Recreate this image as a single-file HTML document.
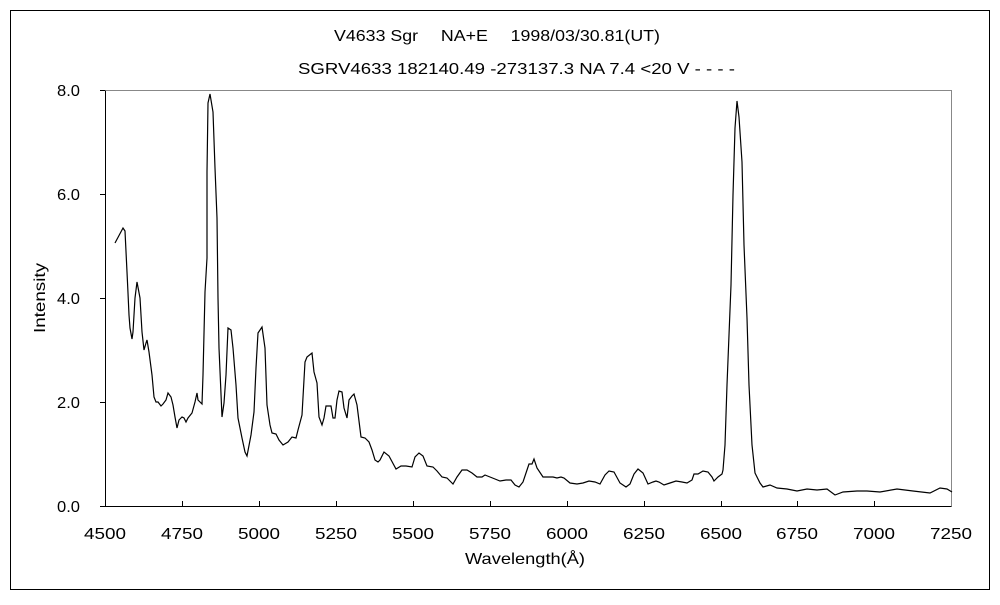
<!DOCTYPE html>
<html><head><meta charset="utf-8"><style>
body{margin:0;background:#fff;}
text{font-family:"Liberation Sans","Noto Sans CJK JP",sans-serif;font-size:16px;fill:#000;}
</style></head><body>
<svg width="1000" height="600" xmlns="http://www.w3.org/2000/svg">
<rect x="0" y="0" width="1000" height="600" fill="#fff"/>
<rect x="10.5" y="10.5" width="979" height="579" fill="none" stroke="#000" stroke-width="1"/>
<text x="334" y="41" textLength="326" lengthAdjust="spacingAndGlyphs">V4633 Sgr　 NA+E　 1998/03/30.81(UT)</text>
<text x="298" y="74" textLength="437" lengthAdjust="spacingAndGlyphs">SGRV4633 182140.49 -273137.3 NA 7.4 &lt;20 V - - - -</text>
<path d="M105.5 90.5H951.5V506.5" fill="none" stroke="#888" stroke-width="1"/>
<path d="M105.5 90.5V506.5H951.5" fill="none" stroke="#000" stroke-width="1"/>
<g stroke="#000" stroke-width="1">
<path d="M105 90.5h-5M105 194.5h-5M105 298.5h-5M105 402.5h-5M105 506.5h-5"/>
<path d="M182.5 506v-5M259.5 506v-5M336.5 506v-5M413.5 506v-5M490.5 506v-5M567.5 506v-5M644.5 506v-5M721.5 506v-5M797.5 506v-5M874.5 506v-5"/>
</g>
<g text-anchor="end">
<text x="80" y="96" textLength="23" lengthAdjust="spacingAndGlyphs">8.0</text><text x="80" y="200" textLength="23" lengthAdjust="spacingAndGlyphs">6.0</text><text x="80" y="304" textLength="23" lengthAdjust="spacingAndGlyphs">4.0</text><text x="80" y="408" textLength="23" lengthAdjust="spacingAndGlyphs">2.0</text><text x="80" y="512" textLength="23" lengthAdjust="spacingAndGlyphs">0.0</text>
</g>
<g text-anchor="middle">
<text x="105" y="539" textLength="42" lengthAdjust="spacingAndGlyphs">4500</text><text x="182" y="539" textLength="42" lengthAdjust="spacingAndGlyphs">4750</text><text x="259" y="539" textLength="42" lengthAdjust="spacingAndGlyphs">5000</text><text x="336" y="539" textLength="42" lengthAdjust="spacingAndGlyphs">5250</text><text x="413" y="539" textLength="42" lengthAdjust="spacingAndGlyphs">5500</text><text x="490" y="539" textLength="42" lengthAdjust="spacingAndGlyphs">5750</text><text x="567" y="539" textLength="42" lengthAdjust="spacingAndGlyphs">6000</text><text x="644" y="539" textLength="42" lengthAdjust="spacingAndGlyphs">6250</text><text x="721" y="539" textLength="42" lengthAdjust="spacingAndGlyphs">6500</text><text x="797" y="539" textLength="42" lengthAdjust="spacingAndGlyphs">6750</text><text x="874" y="539" textLength="42" lengthAdjust="spacingAndGlyphs">7000</text><text x="951" y="539" textLength="42" lengthAdjust="spacingAndGlyphs">7250</text>
<text x="525" y="564" textLength="120" lengthAdjust="spacingAndGlyphs">Wavelength(Å)</text>
<text transform="translate(45,298) rotate(-90)" textLength="70" lengthAdjust="spacingAndGlyphs">Intensity</text>
</g>
<polyline fill="none" stroke="#000" stroke-width="1.2" points="115,243 123,228 125,231 127,272 128,293 129,315 130,328 132,339 133,332 135,298 137,282 140,298 142,332 144,350 146,343 147,340 149,352 152,375 154,397 156,402 158,402 161,406 163,404 166,400 168,393 171,397 173,405 175,417 177,428 179,420 182,417 184,418 186,422 188,418 192,413 195,402 197,393 198,400 202,404 203,375 205,292 207,258 207,172 208,103 210,94 213,112 215,168 217,218 218,298 219,348 222,417 224,403 226,375 228,328 231,330 233,348 236,385 238,418 242,438 245,452 247,456 251,435 254,412 256,368 258,333 262,327 265,348 267,405 270,425 272,433 276,434 279,440 283,445 288,442 292,437 296,438 298,430 302,415 305,362 307,357 312,353 314,372 317,383 319,417 322,425 324,418 326,406 331,406 333,418 335,418 337,400 339,391 342,392 344,408 347,418 349,400 352,396 354,394 357,405 361,437 365,438 369,442 372,450 375,460 378,462 380,460 384,452 389,456 396,469 401,466 406,466 412,467 415,457 419,453 423,456 427,466 433,467 437,471 442,477 447,478 453,484 457,477 462,470 467,470 472,473 477,477 482,477 485,475 490,477 495,479 500,481 506,480 511,480 515,485 519,487 523,482 527,470 529,464 532,464 534,459 537,468 543,477 553,477 557,478 561,477 564,478 570,483 577,484 583,483 589,481 595,482 600,484 605,475 609,471 614,472 620,483 626,487 630,484 634,474 638,469 643,473 648,484 653,482 656,481 659,482 664,485 670,483 676,481 682,482 687,483 692,480 694,474 698,474 703,471 708,472 712,477 714,481 718,477 722,474 723,470 725,445 727,385 731,285 733,195 735,128 737,101 739,117 742,162 744,245 747,318 749,385 752,445 755,473 760,483 763,487 770,485 777,488 787,489 797,491 807,489 817,490 827,489 835,495 843,492 857,491 867,491 880,492 897,489 913,491 930,493 940,488 947,489 952,492"/>
</svg>
</body></html>
